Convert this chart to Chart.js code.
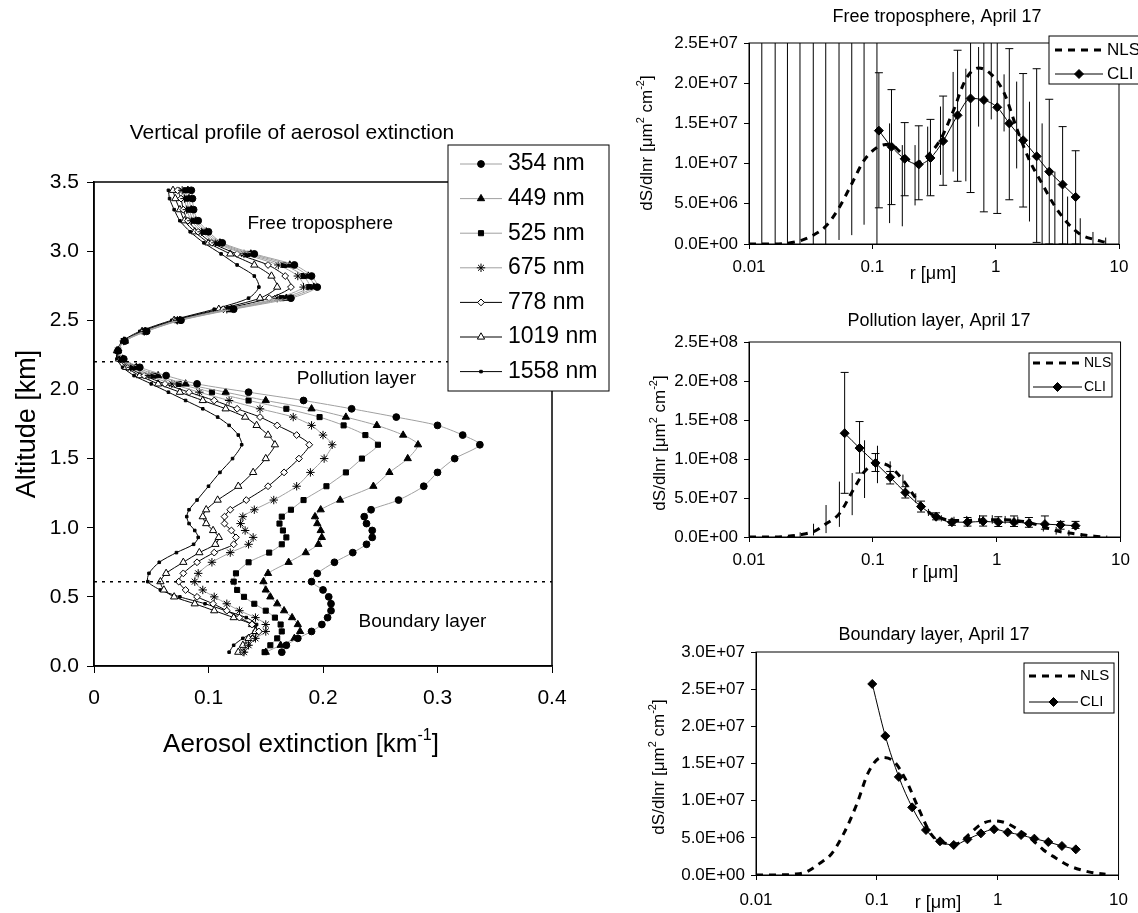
<!DOCTYPE html>
<html>
<head>
<meta charset="utf-8">
<title>Aerosol extinction profile and size distributions, April 17</title>
<script src="https://cdn.jsdelivr.net/npm/chart.js"></script>
<style>
  html, body { margin: 0; padding: 0; background: #fff; }
  #page { position: relative; width: 1138px; height: 913px; overflow: hidden; }
  canvas { position: absolute; }
</style>
</head>
<body>
<div id="page">
  <canvas id="profile" width="620" height="690" style="left:0;top:100px"></canvas>
  <canvas id="free" width="518" height="300" style="left:620px;top:0"></canvas>
  <canvas id="pollution" width="518" height="300" style="left:620px;top:300px"></canvas>
  <canvas id="boundary" width="518" height="313" style="left:620px;top:600px"></canvas>
</div>
<script>
// ---- vertical profile: altitude [km] and extinction [km-1] per wavelength ----
const altitude = [0.10, 0.15, 0.20, 0.25, 0.30, 0.35, 0.40, 0.45, 0.50, 0.55, 0.61, 0.67, 0.75, 0.82, 0.88, 0.93, 0.98, 1.03, 1.08, 1.13,
  1.20, 1.30, 1.40, 1.50, 1.60, 1.67, 1.74, 1.80, 1.86, 1.92, 1.98, 2.04, 2.10, 2.16, 2.22,
  2.28, 2.35, 2.42, 2.50, 2.58, 2.66, 2.74, 2.82, 2.90, 2.98, 3.06, 3.14, 3.22, 3.30, 3.38, 3.44];
const ext354 = [.164, .168, .178, .190, .199, .204, .207, .207, .205, .200, .190, .195, .210, .226, .238, .243, .243, .238, .236, .242,
  .266, .288, .300, .315, .337, .322, .300, .264, .225, .183, .135, .090, .063, .040, .026,
  .021, .027, .046, .076, .122, .172, .195, .190, .175, .140, .112, .100, .091, .087, .086, .085];
const ext449 = [.150, .163, .175, .180, .178, .173, .166, .160, .154, .150, .148, .152, .170, .185, .196, .199, .198, .195, .193, .198,
  .215, .244, .258, .274, .283, .270, .247, .220, .190, .150, .115, .080, .056, .037, .025,
  .021, .027, .045, .075, .120, .168, .192, .187, .171, .137, .110, .098, .089, .085, .083, .082];
const ext525 = [.149, .154, .160, .164, .163, .158, .150, .140, .131, .125, .122, .124, .135, .153, .164, .168, .165, .162, .164, .172,
  .183, .203, .220, .234, .248, .237, .218, .197, .168, .135, .103, .074, .052, .034, .024,
  .021, .026, .045, .074, .118, .164, .188, .183, .166, .134, .108, .096, .087, .083, .081, .080];
const ext675 = [.131, .135, .141, .150, .150, .141, .127, .116, .105, .095, .088, .091, .103, .119, .135, .139, .132, .128, .130, .140,
  .157, .177, .189, .201, .208, .200, .190, .174, .145, .118, .092, .068, .048, .032, .023,
  .021, .026, .044, .073, .116, .160, .183, .178, .161, .131, .106, .094, .085, .081, .079, .077];
const ext778 = [.130, .134, .139, .144, .138, .127, .116, .104, .090, .080, .074, .078, .090, .105, .122, .124, .120, .114, .114, .119,
  .133, .152, .166, .179, .188, .177, .160, .145, .125, .105, .083, .062, .044, .030, .023,
  .021, .026, .043, .072, .113, .153, .172, .167, .152, .125, .103, .091, .082, .078, .076, .073];
const ext1019 = [.126, .130, .135, .141, .138, .122, .105, .088, .070, .061, .058, .063, .078, .092, .106, .109, .104, .098, .095, .098,
  .108, .126, .139, .150, .158, .152, .142, .132, .115, .095, .075, .056, .040, .028, .022,
  .020, .026, .042, .070, .109, .145, .160, .155, .140, .119, .100, .088, .079, .075, .071, .069];
const ext1558 = [.118, .122, .130, .140, .142, .133, .115, .097, .075, .058, .047, .048, .057, .072, .087, .091, .088, .083, .081, .083,
  .090, .100, .110, .121, .129, .126, .118, .108, .095, .080, .065, .050, .035, .025, .020,
  .020, .025, .040, .068, .105, .135, .144, .140, .125, .111, .096, .084, .075, .070, .066, .065];
const wavelengths = ['354 nm', '449 nm', '525 nm', '675 nm', '778 nm', '1019 nm', '1558 nm'];
const layerLimits = [2.2, 0.61];

// ---- size distributions: radius [um], dS/dlnr [um2 cm-2] ----
const rTicks = [0.01, 0.1, 1, 10];
const rTickLabels = ['0.01', '0.1', '1', '10'];
const nlsRadius = [0.0100, 0.0127, 0.0163, 0.0205, 0.0259, 0.0332, 0.0419, 0.0537, 0.0681, 0.0857, 0.109, 0.138, 0.175, 0.222, 0.281,
  0.357, 0.452, 0.573, 0.727, 0.921, 1.17, 1.48, 1.88, 2.38, 3.02, 3.83, 4.85, 6.15, 7.80];

const nlsFree = [0, 0, 0, 0.01e7, 0.04e7, 0.11e7, 0.22e7, 0.45e7, 0.75e7, 1.04e7, 1.20e7, 1.24e7, 1.12e7, 1.00e7, 1.10e7,
  1.30e7, 1.65e7, 2.05e7, 2.19e7, 2.11e7, 1.88e7, 1.44e7, 1.04e7, 0.75e7, 0.47e7, 0.26e7, 0.12e7, 0.06e7, 0.02e7];
const nlsFreeLo = [0, 0, 0, 0, 0, 0, 0, 0.05e7, 0.11e7, 0.24e7, 0, 0.26e7, 0.22e7, 0.48e7, 0.61e7,
  0.86e7, 0.90e7, 0.78e7, 1.46e7, 1.55e7, 1.40e7, 0.94e7, 0.28e7, 0, 0, 0, 0, 0, 0];
const nlsFreeHi = [0, 4e7, 4e7, 4e7, 4e7, 4e7, 4e7, 4e7, 4e7, 4e7, 4e7, 1.50e7, 1.23e7, 1.23e7, 1.46e7,
  1.71e7, 2.14e7, 2.18e7, 2.45e7, 2.60e7, 2.11e7, 2.02e7, 1.77e7, 1.50e7, 0.90e7, 0.59e7, 0.32e7, 0.15e7, 0.08e7];
const cliRadiusFree = [0.113, 0.143, 0.183, 0.238, 0.296, 0.375, 0.491, 0.626, 0.802, 1.03, 1.29, 1.67, 2.15, 2.72, 3.49, 4.45];
const cliFree = [1.41e7, 1.21e7, 1.06e7, 0.99e7, 1.07e7, 1.28e7, 1.60e7, 1.81e7, 1.79e7, 1.70e7, 1.50e7, 1.29e7, 1.09e7, 0.90e7, 0.74e7, 0.585e7];
const cliFreeLo = [0.45e7, 0.49e7, 0.60e7, 0.55e7, 0.60e7, 0.73e7, 0.78e7, 0.64e7, 0.40e7, 0.38e7, 0.55e7, 0.46e7, 0.02e7, 0, 0, 0];
const cliFreeHi = [2.13e7, 1.92e7, 1.51e7, 1.47e7, 1.55e7, 1.84e7, 2.41e7, 2.60e7, 2.60e7, 2.60e7, 2.43e7, 2.12e7, 2.18e7, 1.80e7, 1.46e7, 1.16e7];

const nlsPoll = [0, 0, 0, 0.01e8, 0.03e8, 0.07e8, 0.17e8, 0.30e8, 0.58e8, 0.84e8, 0.95e8, 0.90e8, 0.73e8, 0.50e8, 0.32e8,
  0.24e8, 0.21e8, 0.21e8, 0.22e8, 0.22e8, 0.22e8, 0.21e8, 0.18e8, 0.13e8, 0.08e8, 0.05e8, 0.03e8, 0.01e8, 0];
const nlsPollLo = [0, 0, 0, 0, 0, 0.02e8, 0.05e8, 0.13e8, 0.28e8, 0.50e8, 0.69e8, 0.80e8, 0.65e8, 0.44e8, 0.27e8,
  0.20e8, 0.17e8, 0.16e8, 0.17e8, 0.17e8, 0.17e8, 0.16e8, 0.13e8, 0.07e8, 0.03e8, 0.01e8, 0, 0, 0];
const nlsPollHi = [0, 0, 0.005e8, 0.01e8, 0.06e8, 0.17e8, 0.41e8, 0.71e8, 0.82e8, 1.24e8, 1.17e8, 0.97e8, 0.80e8, 0.56e8, 0.36e8,
  0.28e8, 0.26e8, 0.27e8, 0.28e8, 0.28e8, 0.27e8, 0.26e8, 0.23e8, 0.19e8, 0.13e8, 0.09e8, 0.05e8, 0.02e8, 0];
const cliRadiusPoll = [0.0592, 0.0781, 0.105, 0.138, 0.183, 0.245, 0.324, 0.435, 0.581, 0.777, 1.03, 1.38, 1.82, 2.45, 3.28, 4.33];
const cliPoll = [1.33e8, 1.14e8, 0.95e8, 0.765e8, 0.57e8, 0.39e8, 0.26e8, 0.19e8, 0.19e8, 0.20e8, 0.19e8, 0.19e8, 0.175e8, 0.165e8, 0.155e8, 0.145e8];
const cliPollLo = [0.56e8, 0.82e8, 0.84e8, 0.68e8, 0.50e8, 0.32e8, 0.22e8, 0.15e8, 0.14e8, 0.14e8, 0.135e8, 0.135e8, 0.125e8, 0.10e8, 0.10e8, 0.11e8];
const cliPollHi = [2.11e8, 1.48e8, 1.07e8, 0.84e8, 0.645e8, 0.46e8, 0.31e8, 0.22e8, 0.25e8, 0.27e8, 0.26e8, 0.27e8, 0.25e8, 0.27e8, 0.20e8, 0.20e8];

const nlsBound = [0, 0, 0.002e7, 0.01e7, 0.04e7, 0.15e7, 0.28e7, 0.57e7, 0.95e7, 1.39e7, 1.58e7, 1.53e7, 1.27e7, 0.89e7, 0.55e7,
  0.43e7, 0.42e7, 0.54e7, 0.68e7, 0.73e7, 0.70e7, 0.61e7, 0.49e7, 0.34e7, 0.23e7, 0.13e7, 0.07e7, 0.03e7, 0.01e7];
const cliRadiusBound = [0.0916, 0.1175, 0.152, 0.196, 0.255, 0.333, 0.433, 0.562, 0.726, 0.933, 1.21, 1.56, 2.01, 2.62, 3.40, 4.43];
const cliBound = [2.57e7, 1.87e7, 1.32e7, 0.91e7, 0.605e7, 0.453e7, 0.404e7, 0.48e7, 0.56e7, 0.615e7, 0.574e7, 0.538e7, 0.489e7, 0.444e7, 0.39e7, 0.345e7];

// ---- drawing setup ----
const FONT = '"Liberation Sans", Arial, sans-serif';
Chart.defaults.font.family = FONT;
Chart.defaults.color = '#000';
Chart.defaults.animation = false;
Chart.defaults.events = [];
Chart.defaults.plugins.legend.display = false;
Chart.defaults.plugins.tooltip.enabled = false;

function sci(v) {
  const [m, e] = v.toExponential(1).split('e');
  const n = Number(e);
  return m + 'E' + (n < 0 ? '-' : '+') + String(Math.abs(n)).padStart(2, '0');
}

// text with optional superscript parts
function drawParts(ctx, parts, x, y, size, align) {
  const list = parts.map(p => typeof p === 'string' ? { t: p } : p);
  let w = 0;
  list.forEach(p => {
    ctx.font = (p.sup ? Math.round(size * 0.62) : size) + 'px ' + FONT;
    p.w = ctx.measureText(p.t).width;
    w += p.w;
  });
  let cx = align === 'left' ? x : align === 'right' ? x - w : x - w / 2;
  ctx.textAlign = 'left';
  ctx.textBaseline = 'middle';
  list.forEach(p => {
    ctx.font = (p.sup ? Math.round(size * 0.62) : size) + 'px ' + FONT;
    ctx.fillText(p.t, cx, p.sup ? y - size * 0.38 : y);
    cx += p.w;
  });
}

function marker(ctx, style, r, x, y, fill, stroke) {
  ctx.save();
  ctx.fillStyle = fill;
  ctx.strokeStyle = stroke;
  ctx.lineWidth = 1;
  ctx.beginPath();
  if (style === 'circle') ctx.arc(x, y, r, 0, 2 * Math.PI);
  else if (style === 'triangle') {
    ctx.moveTo(x, y - r); ctx.lineTo(x + r * 0.866, y + r / 2); ctx.lineTo(x - r * 0.866, y + r / 2); ctx.closePath();
  } else if (style === 'rect') {
    const s = r * Math.SQRT1_2; ctx.rect(x - s, y - s, 2 * s, 2 * s);
  } else if (style === 'rectRot') {
    ctx.moveTo(x, y - r); ctx.lineTo(x + r, y); ctx.lineTo(x, y + r); ctx.lineTo(x - r, y); ctx.closePath();
  } else if (style === 'star') {
    for (let k = 0; k < 4; k++) {
      const a = k * Math.PI / 4;
      ctx.moveTo(x + Math.cos(a) * r, y + Math.sin(a) * r);
      ctx.lineTo(x - Math.cos(a) * r, y - Math.sin(a) * r);
    }
  }
  if (style !== 'star') ctx.fill();
  ctx.stroke();
  ctx.restore();
}

// frame, titles, notes and boxed legend (kept outside the options resolver)
const decorations = {};
const decor = {
  id: 'decor',
  afterDraw(chart) {
    const o = decorations[chart.canvas.id];
    if (!o) return;
    const { ctx, chartArea: a, scales } = chart;
    ctx.save();
    ctx.strokeStyle = '#000';
    ctx.lineWidth = o.frame || 1;
    ctx.strokeRect(a.left, a.top, a.right - a.left, a.bottom - a.top);
    ctx.fillStyle = '#000';
    (o.texts || []).forEach(t => {
      let x = t.x, y = t.y;
      if (t.at) { x = scales.x.getPixelForValue(t.at[0]); y = scales.y.getPixelForValue(t.at[1]); }
      ctx.save();
      ctx.translate(x, y);
      if (t.rotate) ctx.rotate(-Math.PI / 2);
      drawParts(ctx, t.parts, 0, 0, t.size, t.align || 'center');
      ctx.restore();
    });
    const L = o.legend;
    if (L) {
      ctx.fillStyle = '#fff';
      ctx.fillRect(L.x, L.y, L.w, L.h);
      ctx.strokeStyle = '#000';
      ctx.lineWidth = 1;
      ctx.strokeRect(L.x, L.y, L.w, L.h);
      L.labels.forEach((label, k) => {
        const ds = chart.data.datasets.find(d => d.label === label);
        const y = L.y + L.first + k * L.step;
        const x0 = L.x + L.line[0], x1 = L.x + L.line[1];
        ctx.save();
        ctx.strokeStyle = ds.borderColor;
        ctx.lineWidth = ds.borderWidth;
        ctx.setLineDash(ds.borderDash || []);
        ctx.beginPath(); ctx.moveTo(x0, y); ctx.lineTo(x1, y); ctx.stroke();
        ctx.restore();
        if (ds.pointRadius > 0) marker(ctx, ds.pointStyle, ds.pointRadius, (x0 + x1) / 2, y, ds.pointBackgroundColor, ds.pointBorderColor);
        ctx.fillStyle = '#000';
        drawParts(ctx, [label], L.x + L.text, y, L.size, 'left');
      });
    }
    ctx.restore();
  }
};
Chart.register(decor);

// ---- left: vertical profile ----
const profileStyle = [
  { line: '#a0a0a0', point: 'circle', radius: 3.4, fill: '#000' },
  { line: '#a0a0a0', point: 'triangle', radius: 4.2, fill: '#000' },
  { line: '#a0a0a0', point: 'rect', radius: 3.6, fill: '#000' },
  { line: '#a0a0a0', point: 'star', radius: 4.2, fill: '#000' },
  { line: '#000', point: 'rectRot', radius: 3.4, fill: '#fff' },
  { line: '#000', point: 'triangle', radius: 4.2, fill: '#fff' },
  { line: '#000', point: 'rect', radius: 1.8, fill: '#000' }
];
const profileLines = [ext354, ext449, ext525, ext675, ext778, ext1019, ext1558];

const profileSets = layerLimits.map(alt => ({
  data: [{ x: 0, y: alt }, { x: 0.4, y: alt }],
  showLine: true, borderColor: '#000', borderWidth: 1.5, borderDash: [3, 5], pointRadius: 0
})).concat(profileLines.map((vals, k) => ({
  label: wavelengths[k],
  data: altitude.map((alt, i) => ({ x: vals[i], y: alt })),
  showLine: true, tension: 0.25,
  borderColor: profileStyle[k].line, borderWidth: 1,
  pointStyle: profileStyle[k].point, pointRadius: profileStyle[k].radius,
  pointBackgroundColor: profileStyle[k].fill, pointBorderColor: '#000', pointBorderWidth: 1
})));

decorations.profile = {
  frame: 1.5,
  texts: [
    { parts: ['Vertical profile of aerosol extinction'], x: 292, y: 33, size: 21 },
    { parts: ['Altitude [km]'], x: 28, y: 324, size: 27, rotate: true },
    { parts: ['Aerosol extinction [km', { t: '-1', sup: true }, ']'], x: 301, y: 645, size: 26 },
    { parts: ['Free troposphere'], at: [0.134, 3.2], size: 19, align: 'left' },
    { parts: ['Pollution layer'], at: [0.177, 2.08], size: 19, align: 'left' },
    { parts: ['Boundary layer'], at: [0.231, 0.32], size: 19, align: 'left' }
  ],
  legend: { x: 448, y: 45, w: 161, h: 246, first: 19, step: 34.6, line: [12, 54], text: 60, size: 23, labels: wavelengths }
};

new Chart(document.getElementById('profile'), {
  type: 'scatter',
  data: { datasets: profileSets },
  options: {
    responsive: false,
    layout: { padding: { left: 0, right: 68, top: 82, bottom: 0 } },
    scales: {
      x: {
        min: 0, max: 0.4,
        ticks: { stepSize: 0.1, font: { size: 21 }, padding: 13 },
        grid: { drawOnChartArea: false, tickLength: 7, color: '#000' },
        border: { color: '#000', width: 1.5 },
        afterFit: s => { s.height = 124; }
      },
      y: {
        min: 0, max: 3.5,
        ticks: { stepSize: 0.5, font: { size: 21 }, padding: 8, callback: v => v.toFixed(1) },
        grid: { drawOnChartArea: false, tickLength: 7, color: '#000' },
        border: { color: '#000', width: 1.5 },
        afterFit: s => { s.width = 94; }
      }
    }
  }
});

// ---- right: size distributions ----
function errorSet(xs, lo, hi, cap) {
  const data = [];
  xs.forEach((x, i) => {
    if (hi[i] > lo[i]) data.push({ x, y: lo[i] }, { x, y: hi[i] }, { x, y: null });
  });
  return {
    data, showLine: true, borderColor: '#000', borderWidth: 1,
    pointStyle: 'line', pointRadius: cap, pointBorderColor: '#000', pointBorderWidth: 1
  };
}

function sizeChart(id, p) {
  const sets = [];
  if (p.nlsLo) sets.push(errorSet(nlsRadius, p.nlsLo, p.nlsHi, 0));
  if (p.cliLo) sets.push(errorSet(p.cliR, p.cliLo, p.cliHi, 4));
  sets.push({
    label: 'NLS',
    data: nlsRadius.map((r, i) => ({ x: r, y: p.nls[i] })),
    showLine: true, borderColor: '#000', borderWidth: 3, borderDash: [7, 6],
    pointRadius: 0, cubicInterpolationMode: 'monotone'
  });
  sets.push({
    label: 'CLI',
    data: p.cliR.map((r, i) => ({ x: r, y: p.cli[i] })),
    showLine: true, borderColor: '#000', borderWidth: 1,
    pointStyle: 'rectRot', pointRadius: 4.5, pointBackgroundColor: '#000', pointBorderColor: '#000',
    cubicInterpolationMode: 'monotone'
  });
  decorations[id] = {
    texts: [
      { parts: [p.title], x: p.titleAt[0], y: p.titleAt[1], size: 18 },
      { parts: ['dS/dlnr [μm', { t: '2', sup: true }, ' cm', { t: '-2', sup: true }, ']'], x: p.yTitleAt[0], y: p.yTitleAt[1], size: 17, rotate: true },
      { parts: ['r [μm]'], x: p.xTitleAt[0], y: p.xTitleAt[1], size: 18 }
    ],
    legend: Object.assign({ labels: ['NLS', 'CLI'] }, p.legend)
  };
  return new Chart(document.getElementById(id), {
    type: 'scatter',
    data: { datasets: sets },
    options: {
      responsive: false,
      layout: { padding: { left: 0, right: p.right, top: p.top, bottom: 0 } },
      scales: {
        x: {
          type: 'logarithmic', min: 0.01, max: 10,
          afterBuildTicks: s => { s.ticks = rTicks.map(v => ({ value: v })); },
          ticks: { callback: (v, i) => rTickLabels[i], font: { size: 17 }, padding: p.xPad, maxRotation: 0, autoSkip: false },
          grid: { drawOnChartArea: false, tickLength: 5, color: '#000' },
          border: { color: '#000', width: 1 },
          afterFit: s => { s.height = p.xAxis; }
        },
        y: {
          min: 0, max: p.yMax,
          ticks: { stepSize: p.yStep, callback: v => sci(v), font: { size: 17 }, padding: 6 },
          grid: { drawOnChartArea: false, tickLength: 5, color: '#000' },
          border: { color: '#000', width: 1 },
          afterFit: s => { s.width = p.yAxis; }
        }
      }
    }
  });
}

sizeChart('free', {
  title: 'Free troposphere, April 17', titleAt: [317, 17], yTitleAt: [27, 143], xTitleAt: [313, 274],
  nls: nlsFree, nlsLo: nlsFreeLo, nlsHi: nlsFreeHi,
  cliR: cliRadiusFree, cli: cliFree, cliLo: cliFreeLo, cliHi: cliFreeHi,
  yMax: 2.5e7, yStep: 5e6, right: 19, top: 43, yAxis: 129, xAxis: 56, xPad: 8,
  legend: { x: 429, y: 36, w: 120, h: 48, first: 14, step: 24, line: [6, 54], text: 58, size: 17 }
});

sizeChart('pollution', {
  title: 'Pollution layer, April 17', titleAt: [319, 21], yTitleAt: [40, 143], xTitleAt: [315, 273],
  nls: nlsPoll, nlsLo: nlsPollLo, nlsHi: nlsPollHi,
  cliR: cliRadiusPoll, cli: cliPoll, cliLo: cliPollLo, cliHi: cliPollHi,
  yMax: 2.5e8, yStep: 5e7, right: 16, top: 42, yAxis: 129, xAxis: 63, xPad: 8,
  legend: { x: 409, y: 53, w: 83, h: 44, first: 10, step: 24, line: [4, 53], text: 55, size: 14 }
});

sizeChart('boundary', {
  title: 'Boundary layer, April 17', titleAt: [314, 35], yTitleAt: [39, 167], xTitleAt: [318, 303],
  nls: nlsBound,
  cliR: cliRadiusBound, cli: cliBound,
  yMax: 3e7, yStep: 5e6, right: 14, top: 52, yAxis: 136, xAxis: 38, xPad: 10,
  legend: { x: 404, y: 63, w: 90, h: 50, first: 13, step: 26, line: [5, 54], text: 56, size: 15 }
});
</script>
</body>
</html>
